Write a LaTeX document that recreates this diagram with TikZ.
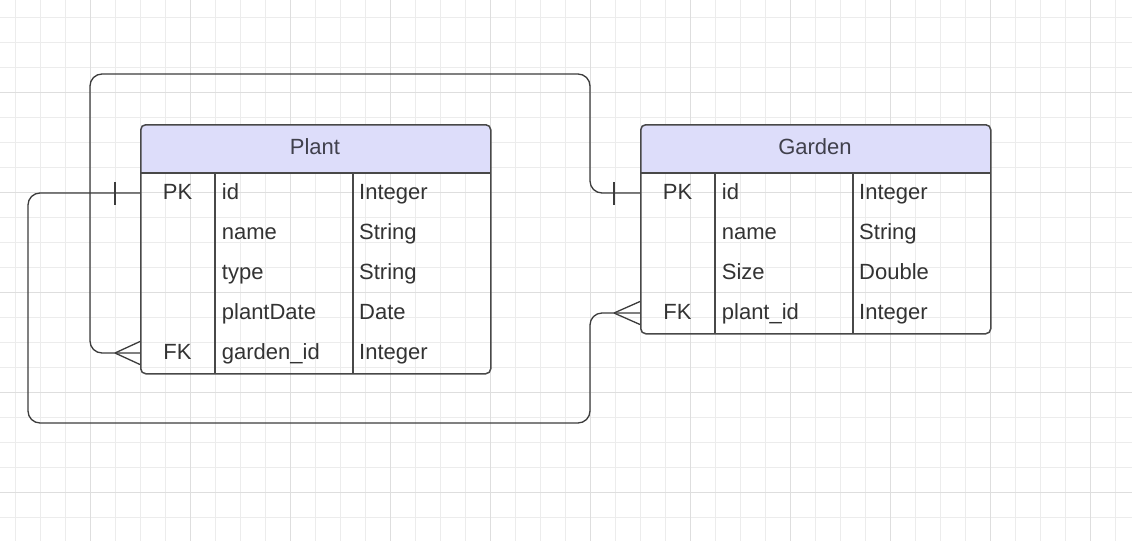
\documentclass[tikz,border=0pt]{standalone}
\usepackage{fontspec}
\setmainfont{Liberation Sans}
\definecolor{gridminor}{RGB}{236,236,236}
\definecolor{gridmajor}{RGB}{222,222,222}
\definecolor{hdrfill}{RGB}{221,221,250}
\definecolor{bordercol}{RGB}{72,72,72}
\definecolor{linecol}{RGB}{60,60,60}
\definecolor{txtcol}{RGB}{51,51,51}
\definecolor{hdrtxt}{RGB}{64,64,76}
\begin{document}
\begin{tikzpicture}[x=1pt,y=-1pt,
  gmin/.style={draw=gridminor, line width=0.8pt},
  gmaj/.style={draw=gridmajor, line width=0.9pt},
  tbl/.style={draw=bordercol, line width=1.5pt, rounded corners=5pt, inner sep=0pt, anchor=north west},
  hdr/.style={fill=hdrfill},
  sep/.style={draw=bordercol, line width=1.5pt},
  conn/.style={draw=linecol, line width=1.3pt, rounded corners=12pt},
  endmark/.style={draw=linecol, line width=1.3pt},
  txt/.style={font=\fontsize{22}{24}\selectfont, text=txtcol, inner sep=0pt},
  htxt/.style={font=\fontsize{22}{24}\selectfont, text=hdrtxt, inner sep=0pt, anchor=base}
]
\useasboundingbox (0,0) rectangle (1132,541);
\fill[white] (0,0) rectangle (1132,541);
% grid
\foreach \i in {0,...,44} { \draw[gmin] ({15.7+25*\i},0) -- ({15.7+25*\i},541); }
\foreach \i in {0,...,20} { \draw[gmin] (0,{17.3+25*\i}) -- (1132,{17.3+25*\i}); }
\foreach \i in {0,...,10} { \draw[gmaj] ({90.7+100*\i},0) -- ({90.7+100*\i},541); }
\foreach \i in {0,...,4} { \draw[gmaj] (0,{92.3+100*\i}) -- (1132,{92.3+100*\i}); }

% header fills
\fill[hdr] (140,173) [rounded corners=5pt] -- (140,124) -- (490,124) [sharp corners] -- (490,173) -- cycle;
\fill[hdr] (640,173) [rounded corners=5pt] -- (640,124) -- (990,124) [sharp corners] -- (990,173) -- cycle;

% tables
\node[tbl, minimum width=350pt, minimum height=249pt] (plant) at (140,124) {};
\node[tbl, minimum width=350pt, minimum height=209pt] (garden) at (640,124) {};

\draw[sep] (140,173) -- (490,173);
\draw[sep] (215,173) -- (215,373);
\draw[sep] (353,173) -- (353,373);
\draw[sep] (640,173) -- (990,173);
\draw[sep] (715,173) -- (715,333);
\draw[sep] (853,173) -- (853,333);

% Plant texts
\node[htxt] (plantT) at (315,154) {Plant};
\node[txt, anchor=base] (ppk) at (177.5,199) {PK};
\node[txt, anchor=base west] (pid) at (221.7,199) {id};
\node[txt, anchor=base west] (pidt) at (359,199) {Integer};
\node[txt, anchor=base west] (pname) at (221.7,239) {name};
\node[txt, anchor=base west] (pnamet) at (359,239) {String};
\node[txt, anchor=base west] (ptype) at (221.7,279) {type};
\node[txt, anchor=base west] (ptypet) at (359,279) {String};
\node[txt, anchor=base west] (pdate) at (221.7,319) {plantDate};
\node[txt, anchor=base west] (pdatet) at (359,319) {Date};
\node[txt, anchor=base] (pfk) at (177.5,359) {FK};
\node[txt, anchor=base west] (pgid) at (221.7,359) {garden\_id};
\node[txt, anchor=base west] (pgidt) at (359,359) {Integer};

% Garden texts
\node[htxt] (gardenT) at (815,154) {Garden};
\node[txt, anchor=base] (gpk) at (677.5,199) {PK};
\node[txt, anchor=base west] (gid) at (721.7,199) {id};
\node[txt, anchor=base west] (gidt) at (859,199) {Integer};
\node[txt, anchor=base west] (gname) at (721.7,239) {name};
\node[txt, anchor=base west] (gnamet) at (859,239) {String};
\node[txt, anchor=base west] (gsize) at (721.7,279) {Size};
\node[txt, anchor=base west] (gsizet) at (859,279) {Double};
\node[txt, anchor=base] (gfk) at (677.5,319) {FK};
\node[txt, anchor=base west] (gpid) at (721.7,319) {plant\_id};
\node[txt, anchor=base west] (gpidt) at (859,319) {Integer};

% connection points
\coordinate (plantPK) at (140,193);
\coordinate (plantFK) at (140,353);
\coordinate (gardenPK) at (640,193);
\coordinate (gardenFK) at (640,313);
\coordinate (plantFKtip) at (115,353);
\coordinate (gardenFKtip) at (614,313);

% Plant.id -> Garden.plant_id
\draw[conn] (plantPK) -- (28,193) -- (28,423) -- (590,423) -- (590,313) -- (gardenFK);
\draw[endmark] (115,182) -- (115,205);
\draw[endmark] (gardenFKtip) -- (640,301.5);
\draw[endmark] (gardenFKtip) -- (640,324.5);

% Garden.id -> Plant.garden_id
\draw[conn] (gardenPK) -- (590,193) -- (590,74) -- (90,74) -- (90,353) -- (plantFK);
\draw[endmark] (614,182) -- (614,205);
\draw[endmark] (plantFKtip) -- (140,341.5);
\draw[endmark] (plantFKtip) -- (140,364.5);
\end{tikzpicture}
\end{document}
